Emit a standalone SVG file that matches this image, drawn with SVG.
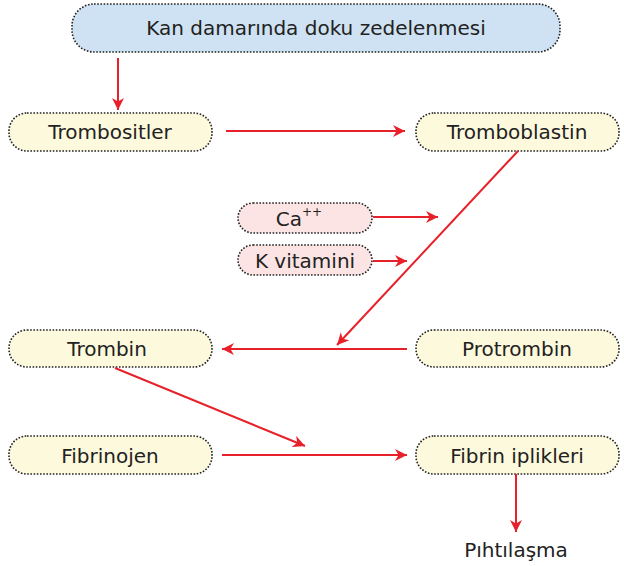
<svg xmlns="http://www.w3.org/2000/svg" width="624" height="566" viewBox="0 0 624 566">
<style>
.box{fill:#fdf9dc;stroke:#222;stroke-width:1.6;stroke-dasharray:1.6 1.6}
.blue{fill:#cfe2f3}
.pink{fill:#fce4e4}
.t{font-family:"Comic Sans MS","DejaVu Sans","Liberation Sans",sans-serif;font-size:20px;fill:#222;text-anchor:middle;dominant-baseline:central}
.c{stroke:#e8202a;stroke-width:2;fill:none;marker-end:url(#ah)}
</style>
<defs>
<marker id="ah" viewBox="0 0 10 10" refX="10" refY="5" markerWidth="6" markerHeight="6" markerUnits="strokeWidth" orient="auto">
<path d="M0,0 L10,5 L0,10 L3,5 Z" fill="#e8202a"/>
</marker>
</defs>
<g id="n-top"><rect class="box blue" x="72" y="4" width="488" height="48" rx="22"/><text class="t" x="316" y="28">Kan damarında doku zedelenmesi</text></g>
<g id="n-trombositler"><rect class="box" x="9" y="113" width="203" height="38" rx="18"/><text class="t" x="110" y="132">Trombositler</text></g>
<g id="n-tromboblastin"><rect class="box" x="416" y="113" width="203" height="38" rx="18"/><text class="t" x="517" y="132">Tromboblastin</text></g>
<g id="n-ca"><rect class="box pink" x="238" y="203" width="134" height="30" rx="15"/><text class="t" x="299" y="219">Ca<tspan dy="-7" style="font-size:12px">++</tspan></text></g>
<g id="n-kvit"><rect class="box pink" x="238" y="245" width="134" height="30" rx="15"/><text class="t" x="305" y="261">K vitamini</text></g>
<g id="n-trombin"><rect class="box" x="9" y="330" width="203" height="37" rx="18"/><text class="t" x="107" y="349">Trombin</text></g>
<g id="n-protrombin"><rect class="box" x="416" y="330" width="203" height="37" rx="18"/><text class="t" x="517" y="349">Protrombin</text></g>
<g id="n-fibrinojen"><rect class="box" x="9" y="436" width="203" height="38" rx="18"/><text class="t" x="110" y="456">Fibrinojen</text></g>
<g id="n-fibrin"><rect class="box" x="416" y="436" width="203" height="38" rx="18"/><text class="t" x="517" y="456">Fibrin iplikleri</text></g>
<g id="n-pihti"><text class="t" x="516" y="550">Pıhtılaşma</text></g>
<g id="connectors">
<line class="c" x1="118" y1="58" x2="118" y2="110"/>
<line class="c" x1="226" y1="131" x2="405" y2="131"/>
<line class="c" x1="373" y1="217" x2="438" y2="217"/>
<line class="c" x1="373" y1="261" x2="407" y2="261"/>
<line class="c" x1="518" y1="151" x2="337" y2="345"/>
<line class="c" x1="407" y1="349" x2="222" y2="349"/>
<line class="c" x1="115" y1="368" x2="305" y2="446"/>
<line class="c" x1="222" y1="455" x2="407" y2="455"/>
<line class="c" x1="516" y1="474" x2="516" y2="532"/>
</g>
</svg>
